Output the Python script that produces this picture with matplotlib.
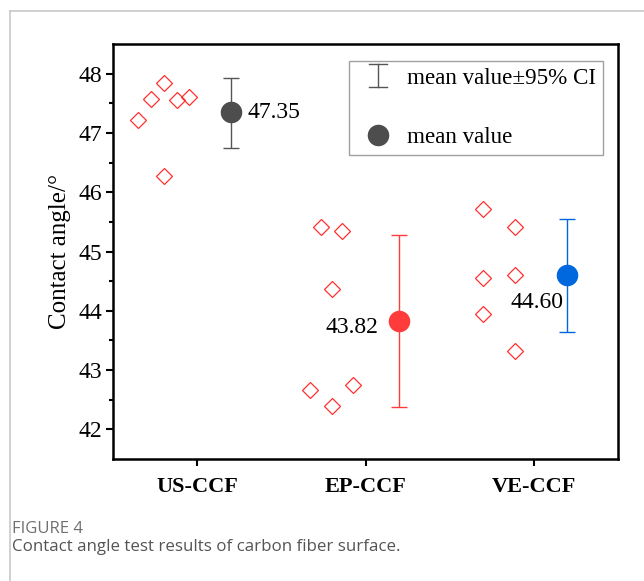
import matplotlib
matplotlib.use("Agg")
import matplotlib.pyplot as plt
from matplotlib.lines import Line2D
from matplotlib.legend_handler import HandlerBase

# valores
grupos = ["US-CCF", "EP-CCF", "VE-CCF"]
colores = ["#4d4d4d", "#ff3b3b", "#0068de"]

pts_x = [
    [0.65, 0.727, 0.80, 0.879, 0.953, 0.80],
    [1.735, 1.863, 1.80, 1.673, 1.80, 1.925],
    [2.70, 2.89, 2.70, 2.89, 2.70, 2.89],
]
pts_y = [
    [47.22, 47.58, 47.84, 47.55, 47.61, 46.28],
    [45.42, 45.34, 44.36, 42.66, 42.40, 42.74],
    [45.72, 45.42, 44.56, 44.60, 43.95, 43.32],
]

media_x = [1.20, 2.20, 3.195]
media = [47.35, 43.82, 44.60]
ic_sup = [47.93, 45.28, 45.54]
ic_inf = [46.75, 42.37, 43.65]

etiquetas = ["47.35", "43.82", "44.60"]
desplaz = [(12, 0, "left", "center"), (-15, -4, "right", "center"), (-2, -20, "right", "center")]


class HandlerIC(HandlerBase):
    # barra vertical con tapas para la leyenda
    def create_artists(self, legend, orig_handle, xd, yd, w, h, fontsize, trans):
        cx = xd + w / 2
        alto = h * 1.45
        y0 = yd + h / 2 - alto / 2
        y1 = yd + h / 2 + alto / 2
        cap = 6.5
        kw = dict(color="#555555", lw=1.0, transform=trans)
        return [Line2D([cx, cx], [y0, y1], **kw),
                Line2D([cx - cap, cx + cap], [y0, y0], **kw),
                Line2D([cx - cap, cx + cap], [y1, y1], **kw)]


plt.rcParams["font.family"] = ["Liberation Serif", "DejaVu Serif"]

fig = plt.figure(figsize=(6.44, 5.81), dpi=100)
ax = fig.add_axes([113 / 644, 1 - 459 / 581, 505 / 644, 415 / 581])

# borde gris del recuadro de la figura
fig.add_artist(Line2D([10 / 644, 10 / 644], [0, 1 - 11 / 581], color="#c8c8c8", lw=1.2))
fig.add_artist(Line2D([10 / 644, 1], [1 - 11 / 581, 1 - 11 / 581], color="#c8c8c8", lw=1.2))

for i in range(3):
    ax.plot(pts_x[i], pts_y[i], linestyle="none", marker="D", markersize=8.3,
            markerfacecolor="none", markeredgecolor="#ff3030", markeredgewidth=0.9)
    err = [[media[i] - ic_inf[i]], [ic_sup[i] - media[i]]]
    ax.errorbar([media_x[i]], [media[i]], yerr=err, fmt="o", color=colores[i],
                ecolor=colores[i] if i > 0 else "#555555", elinewidth=1.0, capsize=6,
                capthick=1.0, markersize=14.5, zorder=3)
    dx, dy, ha, va = desplaz[i]
    ax.annotate(etiquetas[i], (media_x[i], media[i]), xytext=(dx, dy), textcoords="offset points",
                ha=ha, va=va, fontsize=17)

ax.set_xlim(0.5, 3.5)
ax.set_ylim(41.5, 48.5)
ax.set_xticks([1, 2, 3])
ax.set_xticklabels(grupos, fontsize=16, fontweight="bold")
ax.set_yticks([42, 43, 44, 45, 46, 47, 48])
ax.set_yticks([42.5, 43.5, 44.5, 45.5, 46.5, 47.5], minor=True)
ax.tick_params(axis="y", labelsize=17, width=1.5, length=5, direction="out", pad=3)
ax.tick_params(axis="y", which="minor", width=1.5, length=3)
ax.tick_params(axis="x", width=1.5, length=5, pad=8)
for s in ax.spines.values():
    s.set_linewidth(1.8)
ax.set_ylabel("Contact angle/°", fontsize=18, labelpad=5)

# leyenda
h_media = Line2D([], [], linestyle="none", marker="o", color="#4d4d4d", markersize=14.5)
leg = ax.legend(["ic", h_media], ["mean value±95% CI", "mean value"], loc="upper right",
                handler_map={str: HandlerIC()},
                bbox_to_anchor=(0.97, 0.96), borderaxespad=0, fontsize=16.6, frameon=True,
                fancybox=False, edgecolor="#888888", labelspacing=1.65, handlelength=1.85,
                handletextpad=0.35, borderpad=0.3)
leg.get_frame().set_linewidth(1.0)

fig.text(12 / 644, 1 - 529 / 581, "FIGURE 4", fontsize=12, color="#707070",
         family=["Open Sans", "DejaVu Sans"], va="center")
fig.text(12 / 644, 1 - 547 / 581, "Contact angle test results of carbon fiber surface.", fontsize=12.2,
         color="#555555", family=["Open Sans", "DejaVu Sans"], va="center")

fig.savefig("out.png", dpi=100)
